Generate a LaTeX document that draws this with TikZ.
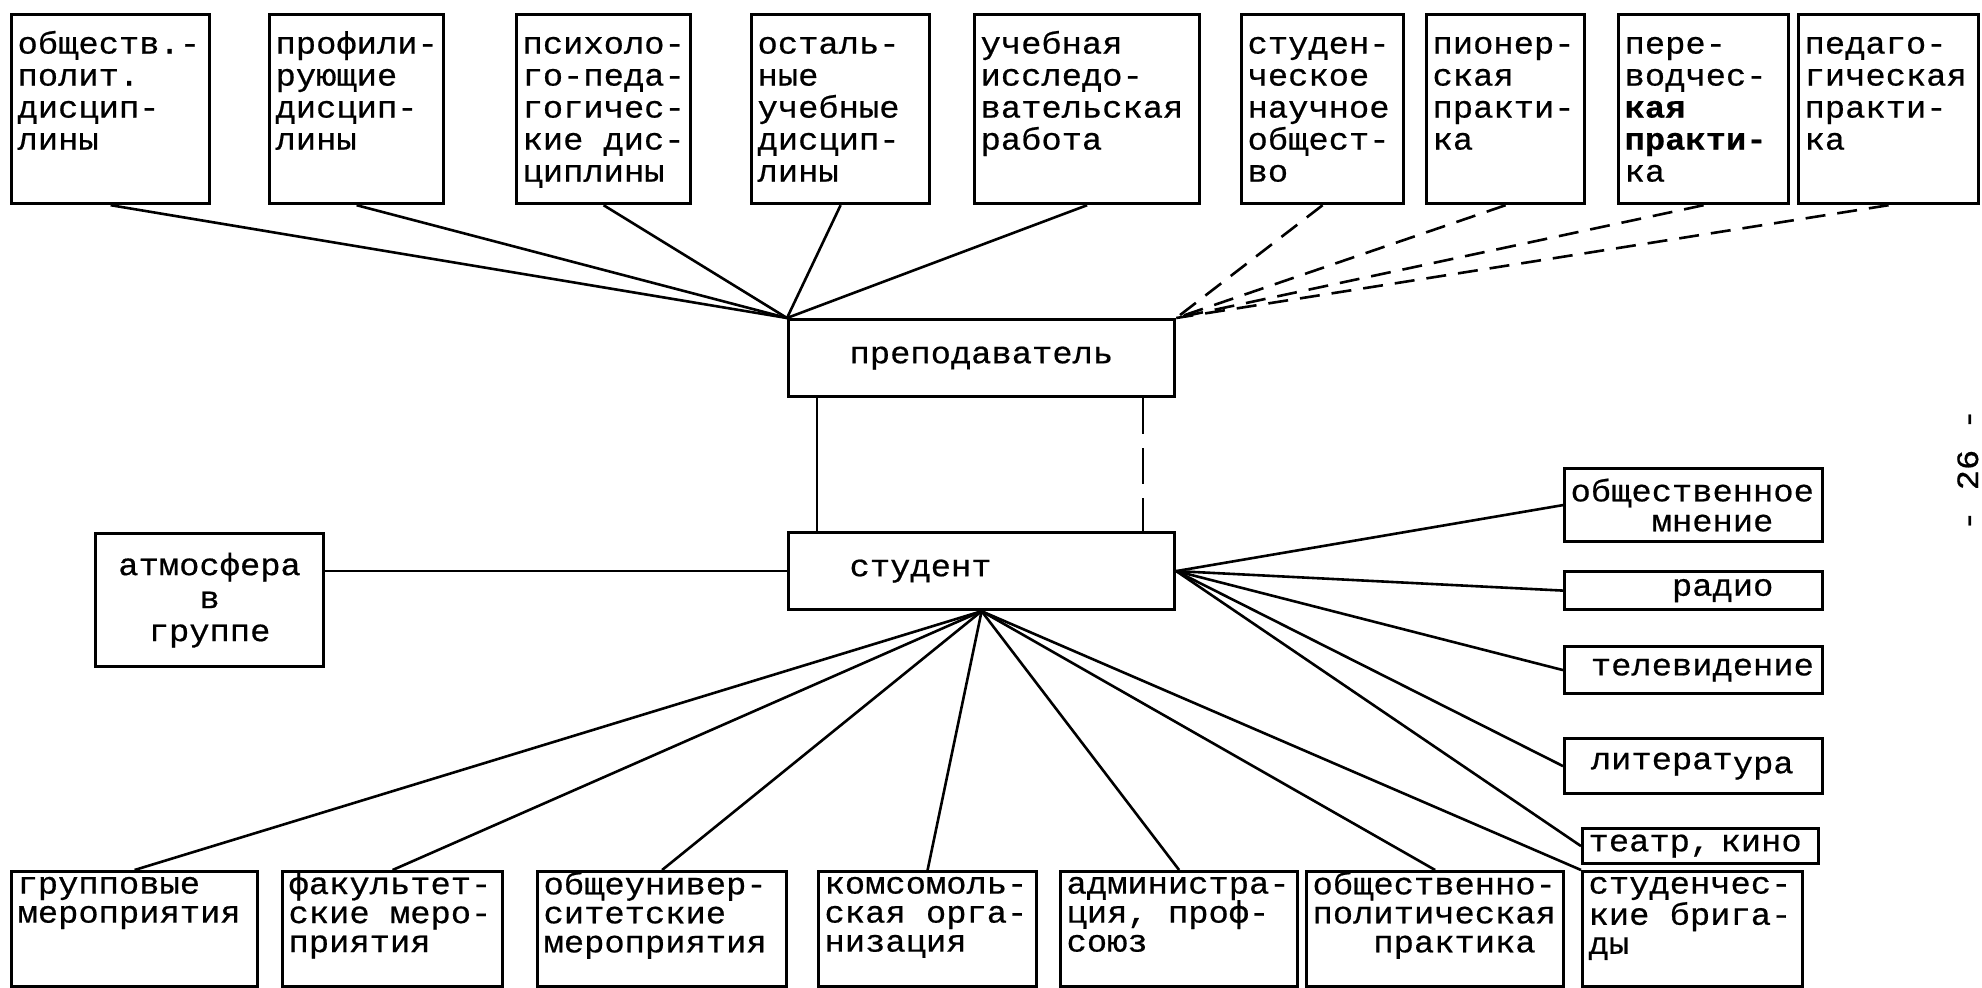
\documentclass[tikz,border=0pt]{standalone}
\usepackage{fontspec}
\newfontfamily\tw[FakeStretch=1.09,FakeBold=0.6]{Liberation Mono}
\hyphenpenalty=10000
\exhyphenpenalty=10000
\lineskiplimit=-20pt
\newcommand{\topcell}[2]{\parbox[c][94.5pt][t]{#1}{\rule{0pt}{19.5pt}#2}}
\newcommand{\botcell}[2]{\parbox[c][57.5pt][t]{#1}{\rule{0pt}{11pt}#2}}

\begin{document}
\begin{tikzpicture}[x=0.5pt,y=-0.5pt,
  box/.style={draw,line width=1.6pt,anchor=north west,inner xsep=3pt,inner ysep=0pt},
  upbox/.style={box,font=\tw\fontsize{15.5pt}{16pt}\selectfont},
  lowbox/.style={box,font=\tw\fontsize{15.5pt}{14.5pt}\selectfont},
  sidebox/.style={box,align=left,text width=123pt,font=\tw\fontsize{15.5pt}{15pt}\selectfont},
  midbox/.style={box,minimum height=38.5pt,text width=132pt,align=left,inner xsep=30.5pt,font=\tw\fontsize{15.5pt}{16pt}\selectfont},
  link/.style={line width=1.3pt},
  dlink/.style={line width=1.3pt,dash pattern=on 10pt off 6pt}]
 \useasboundingbox (0,0) rectangle (1982,988);
%top row
 \node[upbox] (obsh) at (10,13) {\topcell{93pt}{обществ.-\\полит.\\дисцип-\\лины}};
 \node[upbox] (prof) at (268,13) {\topcell{81pt}{профили-\\рующие\\дисцип-\\лины}};
 \node[upbox] (psih) at (515,13) {\topcell{81pt}{психоло-\\го-педа-\\гогичес-\\кие дис-\\циплины}};
 \node[upbox] (ostal) at (750,13) {\topcell{83pt}{осталь-\\ные\\учебные\\дисцип-\\лины}};
 \node[upbox] (uir) at (973,13) {\topcell{106.5pt}{учебная\\исследо-\\вательская\\работа}};
 \node[upbox] (sno) at (1240,13) {\topcell{75pt}{студен-\\ческое\\научное\\общест-\\во}};
 \node[upbox] (pion) at (1425,13) {\topcell{73pt}{пионер-\\ская\\практи-\\ка}};
 \node[upbox] (perev) at (1617,13) {\topcell{79pt}{пере-\\водчес-\\\textbf{кая}\\\textbf{практи-}\\ка}};
 \node[upbox] (ped) at (1797,13) {\topcell{84pt}{педаго-\\гическая\\практи-\\ка}};
%centre
 \node[midbox] (prep) at (787,318) {преподаватель};
 \node[midbox] (stud) at (787,531) {студент};
 \node[box,text width=108pt,align=center,minimum height=66.5pt,font=\tw\fontsize{15.5pt}{16.5pt}\selectfont] (atm) at (94,532) {атмосфера\\в\\группе};
%right column
 \node[sidebox,minimum height=36.5pt] (mnen) at (1563,467) {общественное\\\phantom{оооо}мнение};
 \node[sidebox,minimum height=19pt] (radio) at (1563,570) {\phantom{ооооо}радио};
 \node[sidebox,minimum height=23.5pt] (tv) at (1563,645) {\phantom{о}телевидение};
 \node[sidebox,minimum height=27.5pt] (lit) at (1563,737) {\phantom{о}литерат\raisebox{-2pt}{ура}};
 \node[sidebox,text width=112pt,minimum height=17.5pt] (teatr) at (1581,827) {театр, кино};
%bottom row
 \node[lowbox] (grp) at (10,870) {\botcell{117pt}{групповые\\мероприятия}};
 \node[lowbox] (fak) at (281,870) {\botcell{104pt}{факультет-\\ские меро-\\приятия}};
 \node[lowbox] (obun) at (536,870) {\botcell{118.5pt}{общеунивер-\\ситетские\\мероприятия}};
 \node[lowbox] (koms) at (817,870) {\botcell{103pt}{комсомоль-\\ская орга-\\низация}};
 \node[lowbox] (adm) at (1059,870) {\botcell{112.5pt}{администра-\\ция, проф-\\союз}};
 \node[lowbox] (obpol) at (1305,870) {\botcell{122.5pt}{общественно-\\политическая\\\phantom{ооо}практика}};
 \node[lowbox] (brig) at (1581,870) {\botcell{104pt}{студенчес-\\кие брига-\\ды}};
%page number
 \node[rotate=90,anchor=base,font=\tw\fontsize{15.5pt}{16pt}\selectfont] (page) at (1978,470) {- 26 -};
%links to teacher
 \draw[link] (obsh.south) -- (prep.north west);
 \draw[link] (prof.south) -- (prep.north west);
 \draw[link] (psih.south) -- (prep.north west);
 \draw[link] (ostal.south) -- (prep.north west);
 \draw[link] (uir.south) -- (prep.north west);
 \draw[dlink] (sno.south) -- (prep.north east);
 \draw[dlink] (pion.south) -- (prep.north east);
 \draw[dlink] (perev.south) -- (prep.north east);
 \draw[dlink] (ped.south) -- (prep.north east);
%teacher - student
 \draw[line width=1pt] ([xshift=15pt]prep.south west) -- ([xshift=15pt]stud.north west);
 \draw[line width=1pt,dash pattern=on 18pt off 7pt] ([xshift=-16.5pt]prep.south east) -- ([xshift=-16.5pt]stud.north east);
 \draw[link] (stud.west) -- (stud.west -| atm.east);
%links from student
 \draw[link] (stud.south) -- (grp.north);
 \draw[link] (stud.south) -- (fak.north);
 \draw[link] (stud.south) -- (obun.north);
 \draw[link] (stud.south) -- (koms.north);
 \draw[link] (stud.south) -- (adm.north);
 \draw[link] (stud.south) -- (obpol.north);
 \draw[link] (stud.south) -- (brig.north west);
 \draw[link] (stud.east) -- (mnen.west);
 \draw[link] (stud.east) -- (radio.west);
 \draw[link] (stud.east) -- (tv.west);
 \draw[link] (stud.east) -- (lit.west);
 \draw[link] (stud.east) -- (teatr.west);
\end{tikzpicture}
\end{document}
